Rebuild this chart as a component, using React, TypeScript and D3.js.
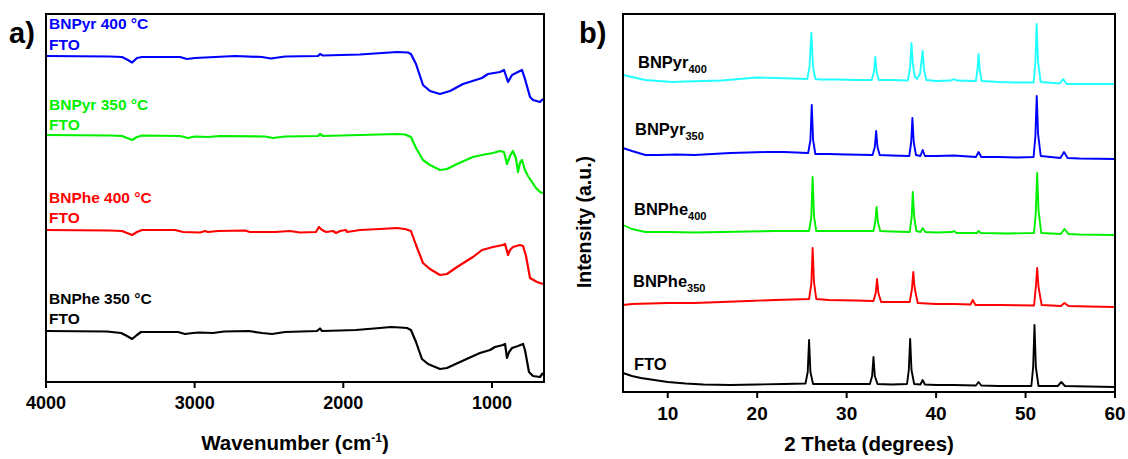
import React from "react";
import * as d3 from "d3";

// ---------- Panel a) FTIR data: [wavenumber (cm-1), transmittance offset (a.u.)] ----------
const ftirBlue: [number, number][] = [
  [4000, 326], [3570, 325.5], [3489, 325], [3455, 322.5], [3421, 319.5], [3388, 324], [3354, 325],
  [3099, 325], [3051, 323], [2998, 324], [2930, 324.5], [2729, 326], [2547, 325], [2487, 323.5],
  [2392, 325.5], [2170, 326], [2157, 328], [2137, 326.5], [1888, 327.5], [1639, 330], [1565, 329.5],
  [1545, 328], [1511, 318], [1464, 297], [1417, 291], [1350, 288], [1282, 291], [1195, 298],
  [1067, 304], [1027, 308], [946, 310], [919, 312], [892, 300], [865, 307], [825, 310], [798, 312],
  [778, 303], [744, 285], [724, 282], [677, 280], [657, 283],
];
const ftirGreen: [number, number][] = [
  [4000, 247], [3570, 246.5], [3489, 246], [3455, 244], [3421, 242], [3388, 245], [3354, 246.5],
  [3099, 246], [3045, 244], [2998, 245.5], [2910, 245], [2830, 246], [2527, 245.5], [2473, 244],
  [2392, 245.5], [2170, 246], [2157, 248], [2137, 246], [1888, 247], [1639, 248], [1585, 247.5],
  [1545, 245], [1511, 234], [1464, 222], [1417, 217], [1350, 212], [1303, 213], [1235, 218],
  [1128, 225], [1067, 227], [993, 229], [946, 231], [919, 230], [899, 218], [879, 226], [859, 231],
  [839, 224], [825, 210], [812, 219], [798, 222], [778, 212], [758, 206], [731, 200], [704, 194],
  [677, 190], [657, 189],
];
const ftirRed: [number, number][] = [
  [4000, 152], [3570, 151.5], [3489, 151], [3455, 149], [3421, 147], [3388, 150], [3354, 152],
  [3132, 152], [3078, 150], [2964, 149.5], [2930, 151], [2910, 150], [2843, 151], [2661, 151.5],
  [2628, 150], [2460, 150], [2359, 151], [2291, 149.5], [2184, 150], [2164, 155], [2143, 152],
  [2116, 150], [2069, 151], [2049, 149], [2022, 151], [1982, 152], [1975, 150], [1888, 152],
  [1753, 153], [1639, 154], [1585, 153], [1545, 151], [1511, 137], [1464, 119], [1417, 113],
  [1350, 107], [1303, 108], [1235, 115], [1128, 125], [1067, 132], [993, 135], [926, 137],
  [912, 138], [892, 127], [879, 132], [859, 135], [812, 137], [791, 136], [771, 126], [744, 104],
  [697, 100], [657, 98],
];
const ftirBlack: [number, number][] = [
  [4000, 51], [3590, 50.5], [3495, 49], [3455, 46], [3421, 43], [3388, 47], [3361, 50],
  [3112, 50], [3065, 48], [3011, 49], [2971, 49.5], [2877, 49], [2803, 50.5], [2634, 51],
  [2547, 49], [2480, 48], [2392, 50], [2177, 51], [2157, 53.5], [2143, 51], [2022, 51.5],
  [1915, 52], [1753, 54], [1679, 55], [1619, 54.5], [1572, 54], [1545, 52], [1511, 40],
  [1471, 23], [1430, 18], [1350, 13], [1303, 14], [1215, 20], [1081, 29], [1013, 32], [980, 35],
  [926, 37], [912, 38], [899, 24], [885, 30], [865, 34], [825, 36], [791, 38], [778, 32],
  [751, 10], [724, 6], [677, 5], [657, 9],
];
const ftirTicks = [4000, 3000, 2000, 1000];
const ftirLabels = [
  { lines: ["BNPyr 400 °C", "FTO"], color: "#0000ff" },
  { lines: ["BNPyr 350 °C", "FTO"], color: "#00f000" },
  { lines: ["BNPhe 400 °C", "FTO"], color: "#ff0000" },
  { lines: ["BNPhe 350 °C", "FTO"], color: "#000000" },
];

// ---------- Panel b) XRD data: [2theta (deg), intensity (a.u.)] ----------
const xrdCyan: [number, number][] = [
  [5, 317], [6, 315], [7.5, 312], [9, 311], [10.5, 310], [12, 310.5], [14, 311], [16, 311.5],
  [18, 313], [20, 314.5], [22, 314], [24, 313.5], [25.6, 313], [25.85, 325], [26.05, 359],
  [26.25, 325], [26.5, 313], [27, 312.5], [29, 312.5], [31, 312], [32.8, 312], [33.05, 320],
  [33.2, 335], [33.35, 320], [33.6, 312], [35, 312], [36.85, 311.5], [37.1, 325], [37.25, 349],
  [37.4, 328], [37.6, 316], [37.85, 313], [38.2, 318], [38.5, 341], [38.65, 322], [38.9, 312],
  [40, 311], [41.7, 311.5], [42, 313], [42.3, 311.5], [44.45, 311], [44.62, 322], [44.75, 338],
  [44.88, 322], [45.1, 311], [47, 310], [49, 309.5], [50.9, 309.5], [51.1, 330], [51.25, 368],
  [51.4, 330], [51.7, 310], [53.8, 308.5], [54.2, 313], [54.6, 308], [56, 308], [58, 308], [60, 308],
];
const xrdBlue: [number, number][] = [
  [5, 244], [6, 241], [7.5, 237], [9, 237], [11, 237.5], [13, 237], [15, 238], [17, 239],
  [19, 239.5], [21, 240], [23, 240], [25.7, 239], [25.95, 252], [26.1, 287], [26.25, 252],
  [26.5, 238], [28, 238], [30, 237.5], [32.9, 237], [33.15, 245], [33.3, 261], [33.45, 245],
  [33.7, 237], [35, 236.5], [37.0, 236], [37.22, 250], [37.35, 274], [37.5, 250], [37.75, 237],
  [38.25, 236], [38.5, 242], [38.75, 236], [40, 236], [42, 236.5], [44.45, 235], [44.75, 240],
  [45.05, 235], [47, 235], [49, 234.5], [50.9, 235], [51.1, 256], [51.25, 296], [51.4, 258],
  [51.7, 236], [53.9, 234], [54.3, 240], [54.7, 234], [56, 233.5], [60, 233],
];
const xrdGreen: [number, number][] = [
  [5, 167], [6, 163], [7.5, 160], [10, 160], [13, 159.5], [16, 160], [19, 160.5], [22, 161],
  [25.8, 161], [26.05, 175], [26.2, 215], [26.35, 176], [26.6, 161], [28, 161], [31, 161],
  [33.0, 161], [33.2, 170], [33.35, 185], [33.5, 170], [33.75, 161], [35, 160.5], [37.05, 160],
  [37.27, 175], [37.4, 200], [37.55, 175], [37.8, 161], [38.25, 160], [38.5, 164], [38.8, 160],
  [40, 159.5], [41.8, 160], [42, 161], [42.3, 159], [44.55, 159], [44.75, 161], [45, 159],
  [48, 158.5], [50.95, 159], [51.15, 180], [51.3, 219], [51.45, 182], [51.75, 159], [53.95, 158],
  [54.35, 163], [54.8, 158], [56, 157.5], [60, 157],
];
const xrdRed: [number, number][] = [
  [5, 87], [6, 88], [8, 88.5], [10, 89], [13, 89], [16, 90], [19, 91], [22, 92], [25.8, 93],
  [26.05, 108], [26.2, 144], [26.35, 110], [26.6, 93], [28, 92], [31, 91.5], [33.0, 91],
  [33.25, 99], [33.4, 113], [33.55, 99], [33.85, 90], [35, 90], [37.05, 90], [37.3, 103],
  [37.45, 120], [37.6, 104], [37.95, 89], [40, 88], [42, 88], [43.85, 87.5], [44.1, 92],
  [44.4, 87], [47, 87], [50.95, 86.5], [51.15, 105], [51.3, 124], [51.45, 105], [51.8, 87],
  [53.95, 86], [54.35, 89], [54.8, 86], [57, 85.5], [60, 85],
];
const xrdBlack: [number, number][] = [
  [5, 19], [6, 16], [7, 14], [8.5, 12], [10, 10], [12, 8.5], [14, 7.5], [17, 7], [20, 7.5],
  [23, 8], [25.4, 8.5], [25.65, 20], [25.8, 52], [25.95, 20], [26.25, 8], [28, 8], [31, 8],
  [32.6, 8], [32.85, 16], [33.0, 35], [33.15, 16], [33.45, 8], [35, 7.5], [36.75, 8],
  [36.95, 22], [37.1, 53], [37.25, 22], [37.55, 8], [38.25, 7.5], [38.5, 12], [38.75, 7.5],
  [40, 7], [42, 7], [44.45, 6.5], [44.75, 10], [45.05, 6.5], [47, 6], [50.65, 6], [50.85, 25],
  [51.0, 67], [51.15, 25], [51.45, 6], [53.6, 6], [54.0, 10], [54.4, 6], [57, 5.5], [60, 5],
];
const xrdTicks = [10, 20, 30, 40, 50, 60];
const xrdLabels = [
  { name: "BNPyr", sub: "400" },
  { name: "BNPyr", sub: "350" },
  { name: "BNPhe", sub: "400" },
  { name: "BNPhe", sub: "350" },
  { name: "FTO", sub: "" },
];

const FONT = "'Liberation Sans', Arial, Helvetica, sans-serif";

export default function App() {
  // Panel a geometry
  const aL = 46, aR = 544, aT = 14, aB = 382;
  const xa = d3.scaleLinear().domain([4000, 650]).range([aL, aR]);
  const ya = d3.scaleLinear().domain([0, 368]).range([aB, aT]);
  const lineA = d3.line<[number, number]>().x((d) => xa(d[0])).y((d) => ya(d[1]));

  // Panel b geometry
  const bL = 623, bR = 1115, bT = 14, bB = 392;
  const xb = d3.scaleLinear().domain([5, 60]).range([bL, bR]);
  const yb = d3.scaleLinear().domain([0, 378]).range([bB, bT]);
  const lineB = d3.line<[number, number]>().x((d) => xb(d[0])).y((d) => yb(d[1]));

  const ftirSeries = [
    { data: ftirBlue, color: "#0000ff" },
    { data: ftirGreen, color: "#00f000" },
    { data: ftirRed, color: "#ff0000" },
    { data: ftirBlack, color: "#000000" },
  ];
  const xrdSeries = [
    { data: xrdCyan, color: "#22ffff" },
    { data: xrdBlue, color: "#0000ff" },
    { data: xrdGreen, color: "#00f000" },
    { data: xrdRed, color: "#ff0000" },
    { data: xrdBlack, color: "#000000" },
  ];

  const ftirLabelPos = [[29, 50], [110, 130], [203, 223], [304, 324]];
  const xrdLabelPos = [[638, 68], [635, 135], [634, 215], [633, 287], [634, 370]];

  return (
    <div style={{ position: "absolute", left: 0, top: 0 }}>
      <svg width={1128} height={459} style={{ display: "block", background: "#fff" }} fontFamily={FONT}>
        {/* Panel labels */}
        <text x={9} y={43} fontSize={29} fontWeight="bold">a)</text>
        <text x={579} y={43} fontSize={29} fontWeight="bold">b)</text>

        {/* ---- Panel a ---- */}
        <g>
          {ftirSeries.map((s, i) => (
            <path key={i} d={lineA(s.data) || ""} fill="none" stroke={s.color} strokeWidth={2.2} strokeLinejoin="round" />
          ))}
          {ftirLabels.map((l, i) => (
            <g key={i} fill={l.color} fontSize={15.5} fontWeight="bold">
              <text x={49} y={ftirLabelPos[i][0]}>{l.lines[0]}</text>
              <text x={49} y={ftirLabelPos[i][1]}>{l.lines[1]}</text>
            </g>
          ))}
          <rect x={aL} y={aT} width={aR - aL} height={aB - aT} fill="none" stroke="#000" strokeWidth={2} />
          {ftirTicks.map((t) => (
            <g key={t}>
              <line x1={xa(t)} x2={xa(t)} y1={aB} y2={aB + 6} stroke="#000" strokeWidth={2} />
              <text x={xa(t)} y={409} textAnchor="middle" fontSize={18} fontWeight="bold">{t}</text>
            </g>
          ))}
          <text x={(aL + aR) / 2} y={450} textAnchor="middle" fontSize={20.5} fontWeight="bold">
            Wavenumber (cm<tspan dy={-8} fontSize={12}>-1</tspan><tspan dy={8}>)</tspan>
          </text>
        </g>

        {/* ---- Panel b ---- */}
        <g>
          {xrdSeries.map((s, i) => (
            <path key={i} d={lineB(s.data) || ""} fill="none" stroke={s.color} strokeWidth={1.9} strokeLinejoin="round" />
          ))}
          {xrdLabels.map((l, i) => (
            <text key={i} x={xrdLabelPos[i][0]} y={xrdLabelPos[i][1]} fontSize={16.5} fontWeight="bold" fill="#000">
              {l.name}
              {l.sub ? <tspan dy={5} fontSize={11}>{l.sub}</tspan> : null}
            </text>
          ))}
          <rect x={bL} y={bT} width={bR - bL} height={bB - bT} fill="none" stroke="#000" strokeWidth={2} />
          {xrdTicks.map((t) => (
            <g key={t}>
              <line x1={xb(t)} x2={xb(t)} y1={bB} y2={bB + 6} stroke="#000" strokeWidth={2} />
              <text x={xb(t)} y={420} textAnchor="middle" fontSize={19} fontWeight="bold">{t}</text>
            </g>
          ))}
          <text x={(bL + bR) / 2} y={451} textAnchor="middle" fontSize={20.5} fontWeight="bold">2 Theta (degrees)</text>
          <text transform={`translate(591, 222) rotate(-90)`} textAnchor="middle" fontSize={19.5} fontWeight="bold">Intensity (a.u.)</text>
        </g>
      </svg>
    </div>
  );
}
